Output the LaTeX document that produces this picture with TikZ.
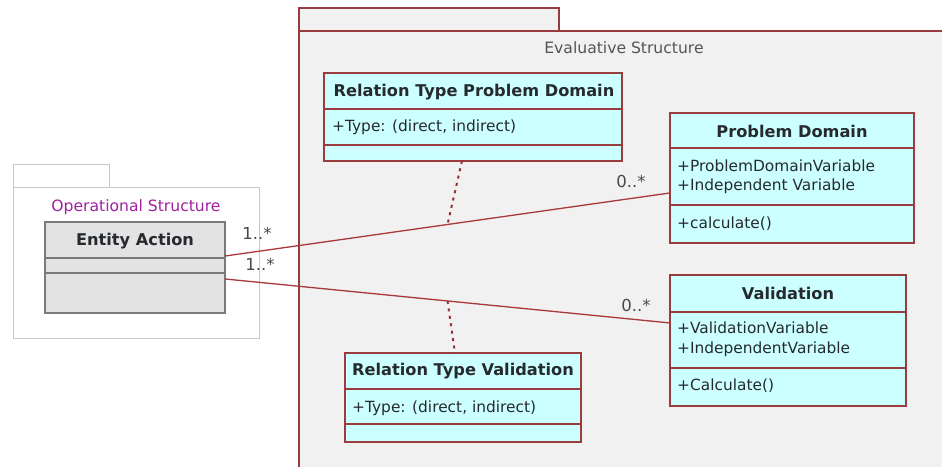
\documentclass[tikz,border=0pt]{standalone}
\usepackage{fontspec}
\setmainfont{DejaVu Sans}
\usetikzlibrary{calc}
\definecolor{edgered}{HTML}{9A3C3E}
\definecolor{assocred}{HTML}{A8383A}
\definecolor{classfill}{HTML}{CCFFFF}
\definecolor{pkgfill}{HTML}{F1F1F1}
\definecolor{opedge}{HTML}{C8C8C8}
\definecolor{entfill}{HTML}{E3E3E3}
\definecolor{entedge}{HTML}{7A7A7A}
\definecolor{oppurple}{HTML}{A020A0}
\definecolor{txt}{HTML}{262A2E}
\begin{document}
\begin{tikzpicture}[x=1pt,y=-1pt,
  classbox/.style={draw=edgered, fill=classfill, line width=1.2pt, inner sep=0pt, outer sep=0pt, anchor=north west},
  entbox/.style={draw=entedge, fill=entfill, line width=1.2pt, inner sep=0pt, outer sep=0pt, anchor=north west},
  sepline/.style={draw=edgered, line width=1.2pt},
  entsep/.style={draw=entedge, line width=1.2pt},
  title/.style={font=\fontsize{16.2}{18}\selectfont\bfseries, text=txt, inner sep=0pt},
  attr/.style={font=\fontsize{15.4}{18}\selectfont, text=txt, inner sep=0pt, anchor=west},
  pkglabel/.style={font=\fontsize{15.6}{18}\selectfont, inner sep=0pt},
  mult/.style={font=\fontsize{16.5}{18}\selectfont, text=txt!85, inner sep=0pt},
  assoc/.style={draw=assocred, line width=1.3pt},
  dotlink/.style={draw=assocred!90!black, line width=2pt, dash pattern=on 3pt off 4.5pt},
]
\useasboundingbox (0,0) rectangle (942,466);
\fill[white] (0,0) rectangle (942,466);
\begin{scope}
\clip (0,0) rectangle (942,466);

% Evaluative Structure package
\draw[edgered, fill=pkgfill, line width=1.2pt] (299,8) rectangle (559,31);
\draw[edgered, fill=pkgfill, line width=1.2pt] (299,31) rectangle (960,480);
\node[pkglabel, text=txt!80] (evaltitle) at (624,48) {Evaluative Structure};

% Operational Structure package
\draw[opedge, fill=white, line width=1pt] (13,164) rectangle (109,187);
\draw[opedge, fill=white, line width=1pt] (13,187) rectangle (259,338);
\node[pkglabel, text=oppurple] (optitle) at (136,207) {Operational Structure};

% Entity Action
\node[entbox, minimum width=180pt, minimum height=91pt] (ea) at (45,222) {};
\draw[entsep] (45,258) -- (225,258);
\draw[entsep] (45,273) -- (225,273);
\node[title] (eatitle) at (135,241) {Entity Action};

% Relation Type Problem Domain
\node[classbox, minimum width=298pt, minimum height=88pt] (rtpd) at (324,73) {};
\draw[sepline] (324,109) -- (622,109);
\draw[sepline] (324,145) -- (622,145);
\node[title] (rtpdtitle) at (474,92) {Relation Type Problem Domain};
\node[attr] (rtpdattr) at (332,127) {+Type: (direct, indirect)};

% Problem Domain
\node[classbox, minimum width=244pt, minimum height=130pt] (pd) at (670,113) {};
\draw[sepline] (670,148) -- (914,148);
\draw[sepline] (670,205) -- (914,205);
\node[title] (pdtitle) at (792,131) {Problem Domain};
\node[attr] (pdattra) at (677,166) {+ProblemDomainVariable};
\node[attr] (pdattrb) at (677,186) {+Independent Variable};
\node[attr] (pdop) at (677,224) {+calculate()};

% Validation
\node[classbox, minimum width=236pt, minimum height=131pt] (val) at (670,275) {};
\draw[sepline] (670,312) -- (906,312);
\draw[sepline] (670,368) -- (906,368);
\node[title] (valtitle) at (788,293) {Validation};
\node[attr] (valattra) at (677,328) {+ValidationVariable};
\node[attr] (valattrb) at (677,349) {+IndependentVariable};
\node[attr] (valop) at (677,386) {+Calculate()};

% Relation Type Validation
\node[classbox, minimum width=236pt, minimum height=89pt] (rtv) at (345,353) {};
\draw[sepline] (345,389) -- (581,389);
\draw[sepline] (345,424) -- (581,424);
\node[title] (rtvtitle) at (463,371) {Relation Type Validation};
\node[attr] (rtvattr) at (352,408) {+Type: (direct, indirect)};

% Associations
\coordinate (eaA) at ($(ea.north east)!0.374!(ea.south east)$);
\coordinate (eaB) at ($(ea.north east)!0.626!(ea.south east)$);
\coordinate (pdA) at ($(pd.north west)!0.615!(pd.south west)$);
\coordinate (valA) at ($(val.north west)!0.366!(val.south west)$);
\draw[assoc] (eaA) -- (pdA);
\draw[assoc] (eaB) -- (valA);
\coordinate (midA) at ($(eaA)!0.5!(pdA)$);
\coordinate (midB) at ($(eaB)!0.5!(valA)$);

% Association classes
\draw[dotlink] ($(rtpd.south west)!0.463!(rtpd.south east)$) -- (midA);
\draw[dotlink] (midB) -- ($(rtv.north west)!0.466!(rtv.north east)$);

% Multiplicities
\node[mult] (m1) at (257,233) {1..*};
\node[mult] (m2) at (260,264) {1..*};
\node[mult] (m3) at (631,181) {0..*};
\node[mult] (m4) at (636,305) {0..*};
\end{scope}
\end{tikzpicture}
\end{document}
